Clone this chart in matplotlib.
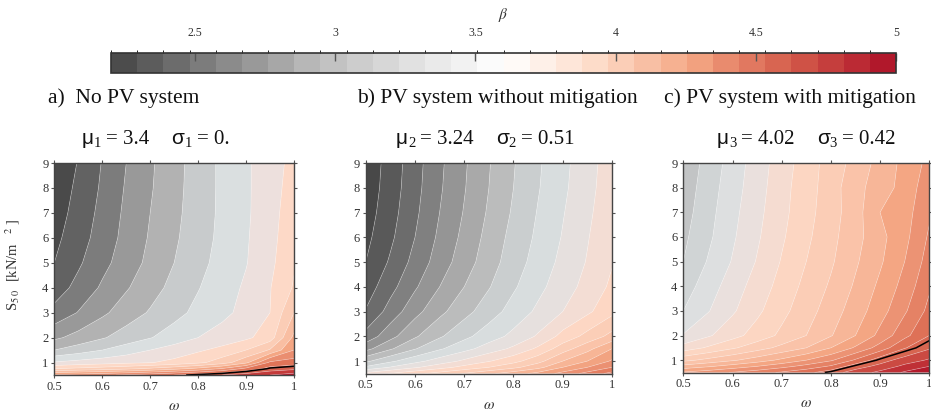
import numpy as np
import matplotlib
matplotlib.use("Agg")
import matplotlib.pyplot as plt
from matplotlib.colors import LinearSegmentedColormap, ListedColormap, BoundaryNorm, Normalize
import matplotlib.cm as cm
from matplotlib.ticker import FuncFormatter

plt.rcParams['font.family'] = ['Liberation Serif', 'DejaVu Serif']
plt.rcParams['mathtext.fontset'] = 'stix'

# ---------------- data ----------------
omega = [0.5, 0.55, 0.6, 0.65, 0.7, 0.75, 0.8, 0.85, 0.9, 0.95, 1.0]
s50 = [0.5, 0.75, 1.0, 1.5, 2.0, 3.0, 4.0, 5.0, 6.0, 7.0, 8.0, 9.0]

beta_a = [
    [4.65, 4.70, 4.76, 4.83, 4.91, 5.00, 5.10, 5.20, 5.30, 5.40, 5.50],
    [4.00, 4.05, 4.10, 4.16, 4.24, 4.34, 4.46, 4.62, 4.86, 5.08, 5.15],
    [3.62, 3.67, 3.71, 3.75, 3.79, 3.85, 3.95, 4.10, 4.35, 4.84, 4.90],
    [3.20, 3.30, 3.40, 3.50, 3.60, 3.69, 3.77, 3.86, 4.00, 4.22, 4.60],
    [2.96, 3.07, 3.18, 3.29, 3.39, 3.49, 3.60, 3.68, 3.76, 3.90, 4.45],
    [2.66, 2.81, 2.96, 3.10, 3.22, 3.34, 3.45, 3.55, 3.66, 3.80, 4.20],
    [2.50, 2.66, 2.83, 2.98, 3.12, 3.26, 3.39, 3.51, 3.63, 3.79, 4.02],
    [2.40, 2.57, 2.74, 2.90, 3.05, 3.20, 3.34, 3.47, 3.59, 3.75, 3.98],
    [2.35, 2.51, 2.69, 2.86, 3.02, 3.17, 3.31, 3.45, 3.58, 3.73, 3.95],
    [2.31, 2.47, 2.66, 2.84, 3.00, 3.15, 3.30, 3.44, 3.57, 3.72, 3.92],
    [2.28, 2.44, 2.63, 2.82, 2.98, 3.14, 3.29, 3.44, 3.57, 3.71, 3.89],
    [2.25, 2.41, 2.61, 2.80, 2.97, 3.13, 3.29, 3.44, 3.57, 3.71, 3.86],
]

beta_b = [
    [3.75, 3.86, 3.96, 4.06, 4.16, 4.27, 4.38, 4.50, 4.65, 4.80, 4.95],
    [3.43, 3.56, 3.68, 3.79, 3.90, 4.00, 4.11, 4.25, 4.45, 4.60, 4.75],
    [3.22, 3.37, 3.50, 3.62, 3.73, 3.84, 3.95, 4.10, 4.30, 4.45, 4.62],
    [2.90, 3.08, 3.24, 3.38, 3.50, 3.62, 3.73, 3.88, 4.08, 4.25, 4.45],
    [2.70, 2.90, 3.08, 3.23, 3.36, 3.48, 3.59, 3.72, 3.90, 4.05, 4.20],
    [2.51, 2.71, 2.90, 3.06, 3.20, 3.33, 3.46, 3.58, 3.70, 3.82, 3.96],
    [2.42, 2.60, 2.78, 2.95, 3.10, 3.24, 3.38, 3.51, 3.63, 3.75, 3.88],
    [2.35, 2.52, 2.70, 2.87, 3.03, 3.18, 3.33, 3.46, 3.59, 3.71, 3.84],
    [2.31, 2.47, 2.65, 2.83, 2.99, 3.15, 3.30, 3.43, 3.56, 3.69, 3.82],
    [2.28, 2.44, 2.62, 2.80, 2.96, 3.12, 3.27, 3.41, 3.54, 3.67, 3.80],
    [2.26, 2.42, 2.60, 2.78, 2.94, 3.10, 3.25, 3.39, 3.52, 3.65, 3.79],
    [2.25, 2.41, 2.59, 2.77, 2.93, 3.09, 3.24, 3.38, 3.51, 3.64, 3.78],
]

beta_c = [
    [4.60, 4.66, 4.73, 4.80, 4.88, 4.96, 5.08, 5.20, 5.32, 5.44, 5.55],
    [4.35, 4.42, 4.50, 4.58, 4.67, 4.77, 4.88, 5.08, 5.18, 5.32, 5.42],
    [4.12, 4.20, 4.28, 4.37, 4.47, 4.58, 4.70, 4.88, 5.08, 5.20, 5.30],
    [3.80, 3.90, 4.00, 4.10, 4.20, 4.30, 4.44, 4.60, 4.78, 4.99, 5.12],
    [3.61, 3.72, 3.83, 3.94, 4.05, 4.16, 4.29, 4.44, 4.62, 4.82, 5.00],
    [3.46, 3.59, 3.72, 3.85, 3.98, 4.10, 4.23, 4.37, 4.52, 4.70, 4.90],
    [3.39, 3.53, 3.67, 3.80, 3.93, 4.06, 4.18, 4.32, 4.47, 4.63, 4.84],
    [3.32, 3.47, 3.61, 3.75, 3.89, 4.02, 4.14, 4.28, 4.42, 4.58, 4.78],
    [3.29, 3.43, 3.58, 3.72, 3.86, 3.99, 4.12, 4.25, 4.40, 4.54, 4.74],
    [3.26, 3.41, 3.56, 3.70, 3.84, 3.97, 4.10, 4.24, 4.44, 4.52, 4.70],
    [3.24, 3.39, 3.54, 3.68, 3.83, 3.96, 4.09, 4.26, 4.36, 4.50, 4.66],
    [3.22, 3.37, 3.52, 3.67, 3.81, 3.95, 4.08, 4.21, 4.35, 4.48, 4.62],
]

titles = ["a)  No PV system", "b) PV system without mitigation", "c) PV system with mitigation"]
mu_vals = ["3.4", "3.24", "4.02"]
sigma_vals = ["0.", "0.51", "0.42"]
target_beta = 5.05

cbar_ticks = [2.5, 3, 3.5, 4, 4.5, 5]
cbar_labels = ["2.5", "3", "3.5", "4", "4.5", "5"]

# ---------------- styling ----------------
W, H = 931, 415
fig = plt.figure(figsize=(W / 100, H / 100), dpi=100)

anchor_v = [2.2, 2.3, 2.5, 2.7, 2.9, 3.1, 3.3, 3.5, 3.7, 3.9, 4.1, 4.3, 4.5,
            4.7, 4.9, 5.1, 5.3, 5.5, 5.7]
anchor_c = ['#444444', '#4a4a4a', '#636363', '#7d7d7d', '#999999', '#b3b3b3',
            '#c8cbcc', '#dadfe0', '#ede0dd', '#fdd9c7', '#fbcdb5', '#f9bea2',
            '#f4a784', '#ea8e70', '#e07458', '#d5624f', '#c43a3a', '#b2182b', '#a51526']
vmin, vmax = anchor_v[0], anchor_v[-1]
panel_cmap = LinearSegmentedColormap.from_list(
    'panel', [((v - vmin) / (vmax - vmin), c) for v, c in zip(anchor_v, anchor_c)])
panel_norm = Normalize(vmin, vmax)

level_sets = [np.arange(2.2, 5.61, 0.2), np.arange(2.2, 5.2, 0.15), np.arange(2.2, 5.72, 0.14)]
datasets = [beta_a, beta_b, beta_c]

def px_rect(l, r, t, b):
    return [l / W, 1 - b / H, (r - l) / W, (b - t) / H]

rects = [px_rect(54.3, 294.0, 163, 375), px_rect(365.7, 612.0, 163, 373.5),
         px_rect(683.3, 929.3, 163, 372.5)]

spine_col = '#444444'
fmt = FuncFormatter(lambda v, p: ('%g' % v))
axes = []
for i, (rect, Z, lev) in enumerate(zip(rects, datasets, level_sets)):
    ax = fig.add_axes(rect)
    Z = np.array(Z)
    ax.contourf(omega, s50, Z, levels=lev, cmap=panel_cmap, norm=panel_norm, antialiased=True)
    ax.contour(omega, s50, Z, levels=lev, colors='white', linewidths=0.5, alpha=0.35)
    if Z.max() > target_beta:
        ax.contour(omega, s50, Z, levels=[target_beta], colors='black', linewidths=1.1)
    ax.set_xlim(0.5, 1.0)
    ax.set_ylim(0.5, 9)
    ax.set_xticks([0.5, 0.6, 0.7, 0.8, 0.9, 1.0])
    ax.set_yticks(range(1, 10))
    ax.xaxis.set_major_formatter(fmt)
    ax.yaxis.set_major_formatter(fmt)
    ax.tick_params(direction='out', length=2.2, width=0.8, color='#555555',
                   labelsize=9, labelcolor='#333333', pad=2,
                   top=True, right=True, labeltop=False, labelright=False)
    for sp in ax.spines.values():
        sp.set_color(spine_col)
        sp.set_linewidth(1.0)
    ax.text(0.5, -0.15, r'$\omega$', transform=ax.transAxes, ha='center', va='center',
            fontsize=11, color='#333333')
    axes.append(ax)

axes[0].set_ylabel('S$_{5\\ 0}$  [kN/m$^{\\ \\ \\ \\ 2}$ ]', fontsize=10.5, color='#333333')
axes[0].yaxis.set_label_coords(-0.135, 0.52)

# titles
title_x = [48, 357, 664]
for tx, t in zip(title_x, titles):
    fig.text(tx / W, 1 - 103 / H, t, fontsize=15.5, va='baseline', ha='left', color='#111111')

renderer = fig.canvas.get_renderer()

def write_pieces(x, base, pieces):
    for txt, fam, size, dy in pieces:
        t = fig.text(x / W, 1 - (base + dy) / H, txt, family=fam, fontsize=size,
                     va='baseline', ha='left', color='#111111')
        bb = t.get_window_extent(renderer=renderer)
        x += bb.width
    return x

mu_x = [82, 396, 717]
for k, (mx, mv, sv) in enumerate(zip(mu_x, mu_vals, sigma_vals)):
    idx = str(k + 1)
    x = write_pieces(mx, 144, [('\u03bc', ['Liberation Sans', 'DejaVu Sans'], 15, 0),
                              (idx, ['Liberation Serif'], 10.5, 3)])
    x = write_pieces(x + 5, 144, [('= ' + mv, ['Liberation Serif'], 15, 0)])
    x = write_pieces(x + 22, 144, [('\u03c3', ['Liberation Sans', 'DejaVu Sans'], 15, 0),
                                  (idx, ['Liberation Serif'], 10.5, 3)])
    write_pieces(x + 5, 144, [('= ' + sv, ['Liberation Serif'], 15, 0)])

# colorbar
cax = fig.add_axes(px_rect(111, 896, 52.7, 72.7))
cb_levels = np.linspace(2.2, 5.0, 31)
cb_cols = plt.get_cmap('RdGy_r')(np.linspace(0.1, 0.9, 30))
cb_cmap = ListedColormap(cb_cols)
cb_norm = BoundaryNorm(cb_levels, cb_cmap.N)
sm = cm.ScalarMappable(norm=cb_norm, cmap=cb_cmap)
cb = fig.colorbar(sm, cax=cax, orientation='horizontal', ticks=cbar_ticks)
cb.ax.set_xticklabels(cbar_labels)
cb.ax.xaxis.set_ticks_position('top')
cb.ax.tick_params(direction='in', length=5.5, width=1.0, color='#555555',
                  labelsize=8.5, labelcolor='#333333', pad=10)
cb.outline.set_edgecolor('#333333')
cb.outline.set_linewidth(1.2)
fig.text(503 / W, 1 - 15 / H, r'$\beta$', fontsize=11, ha='center', va='center', color='#333333')

fig.savefig('out.png', dpi=100)
